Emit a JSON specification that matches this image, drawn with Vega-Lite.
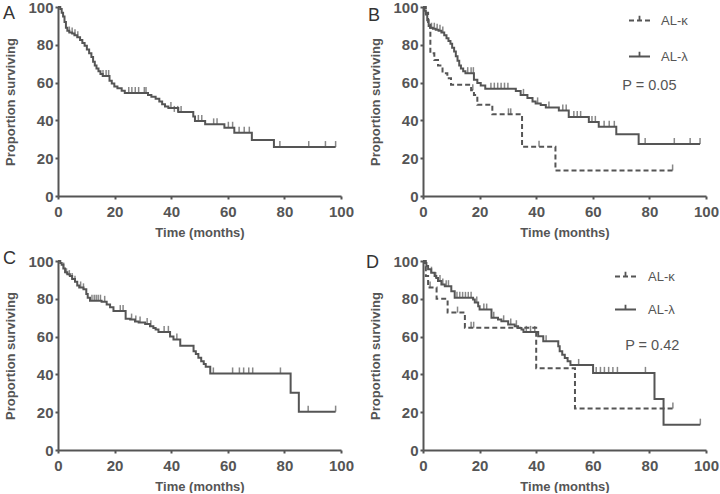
{
  "$schema": "https://vega.github.io/schema/vega-lite/v6.json",
  "background": "white",
  "padding": {"left": 3, "top": 0, "right": 0, "bottom": 0},
  "columns": 2,
  "spacing": {"row": 65, "column": 82},
  "bounds": "flush",
  "resolve": {"scale": {"strokeDash": "independent"}, "legend": {"strokeDash": "independent"}},
  "datasets": {
    "A_curve": [
      {"t":0,"s":100},{"t":0.8,"s":99},{"t":1.3,"s":97},{"t":1.8,"s":95},{"t":2.3,"s":92},{"t":2.8,"s":89},{"t":3.3,"s":87.5},{"t":4,"s":86.5},{"t":5,"s":86},{"t":5.8,"s":85},{"t":6.8,"s":84},{"t":7.8,"s":82.5},{"t":8.6,"s":81},{"t":9.4,"s":79.5},{"t":10.2,"s":77.5},{"t":11,"s":75.5},{"t":11.8,"s":73.5},{"t":12.4,"s":71},{"t":13,"s":69},{"t":13.6,"s":67.5},{"t":14.3,"s":66},{"t":15,"s":64.5},{"t":15.8,"s":63.5},{"t":18.2,"s":61},{"t":19,"s":59.5},{"t":19.9,"s":58},{"t":21,"s":57},{"t":22.5,"s":55.7},{"t":23.6,"s":54.5},{"t":31.8,"s":53.5},{"t":33,"s":52.5},{"t":34.5,"s":51.5},{"t":35.8,"s":50},{"t":36.8,"s":48.5},{"t":37.8,"s":47.3},{"t":39,"s":46.5},{"t":42.5,"s":44.5},{"t":47.8,"s":42},{"t":48.4,"s":39.7},{"t":52,"s":37.9},{"t":58.8,"s":36.1},{"t":62.3,"s":33.5},{"t":68.5,"s":29.6},{"t":76.3,"s":25.9},{"t":98.1,"s":25.9}
    ],
    "A_cens": [
      {"t":4,"s":86.5},{"t":5,"s":86},{"t":6,"s":85},{"t":7,"s":84},{"t":15.9,"s":63.5},{"t":17,"s":63.5},{"t":17.9,"s":63.5},{"t":25,"s":54.5},{"t":26.1,"s":54.5},{"t":27.3,"s":54.5},{"t":28.5,"s":54.5},{"t":30.5,"s":54.5},{"t":31.1,"s":54.5},{"t":39.9,"s":46.5},{"t":41.1,"s":44.5},{"t":42.3,"s":44.5},{"t":43.5,"s":44.5},{"t":49.6,"s":39.7},{"t":50.8,"s":39.7},{"t":55,"s":37.9},{"t":56.2,"s":37.9},{"t":60.2,"s":36.1},{"t":61.7,"s":36.1},{"t":64,"s":33.5},{"t":65.8,"s":33.5},{"t":67.6,"s":33.5},{"t":78.4,"s":25.9},{"t":88.6,"s":25.9},{"t":94.5,"s":25.9},{"t":98.1,"s":25.9}
    ],
    "B_curve": [
      {"g":"AL-κ","t":0,"s":100},{"g":"AL-κ","t":1,"s":97},{"g":"AL-κ","t":1.8,"s":92},{"g":"AL-κ","t":2.6,"s":75.5},{"g":"AL-κ","t":4,"s":72},{"g":"AL-κ","t":5.3,"s":69},{"g":"AL-κ","t":6.9,"s":65},{"g":"AL-κ","t":8.6,"s":62.3},{"g":"AL-κ","t":9.9,"s":58.8},{"g":"AL-κ","t":17,"s":56},{"g":"AL-κ","t":18,"s":53.5},{"g":"AL-κ","t":19.2,"s":48.3},{"g":"AL-κ","t":24.5,"s":43.2},{"g":"AL-κ","t":35,"s":26},{"g":"AL-κ","t":46.8,"s":13.5},{"g":"AL-κ","t":88.2,"s":13.5},
      {"g":"AL-λ","t":0,"s":100},{"g":"AL-λ","t":0.5,"s":98},{"g":"AL-λ","t":1,"s":96},{"g":"AL-λ","t":1.5,"s":93},{"g":"AL-λ","t":2,"s":90},{"g":"AL-λ","t":2.5,"s":89},{"g":"AL-λ","t":3.5,"s":88.5},{"g":"AL-λ","t":4.5,"s":88},{"g":"AL-λ","t":5.5,"s":87.5},{"g":"AL-λ","t":6.5,"s":86.5},{"g":"AL-λ","t":7.5,"s":85},{"g":"AL-λ","t":8.3,"s":83.5},{"g":"AL-λ","t":9,"s":82},{"g":"AL-λ","t":9.7,"s":80.5},{"g":"AL-λ","t":10.3,"s":78.5},{"g":"AL-λ","t":11,"s":76.5},{"g":"AL-λ","t":11.6,"s":74},{"g":"AL-λ","t":12.2,"s":71.5},{"g":"AL-λ","t":12.8,"s":69},{"g":"AL-λ","t":13.4,"s":67.5},{"g":"AL-λ","t":14.2,"s":66},{"g":"AL-λ","t":15,"s":65},{"g":"AL-λ","t":18,"s":61.5},{"g":"AL-λ","t":19.2,"s":59.8},{"g":"AL-λ","t":20.4,"s":58.4},{"g":"AL-λ","t":22,"s":56.8},{"g":"AL-λ","t":32.8,"s":55.5},{"g":"AL-λ","t":34.5,"s":53.5},{"g":"AL-λ","t":36.9,"s":51.8},{"g":"AL-λ","t":38.7,"s":50},{"g":"AL-λ","t":39.8,"s":49},{"g":"AL-λ","t":41.6,"s":48.2},{"g":"AL-λ","t":43.4,"s":46.8},{"g":"AL-λ","t":48,"s":45.3},{"g":"AL-λ","t":51.5,"s":41.8},{"g":"AL-λ","t":58.6,"s":39.2},{"g":"AL-λ","t":62.1,"s":36.6},{"g":"AL-λ","t":68.3,"s":32.7},{"g":"AL-λ","t":76.2,"s":27.5},{"g":"AL-λ","t":97.9,"s":27.5}
    ],
    "B_cens": [
      {"t":17.6,"s":56},{"t":30.2,"s":43.2},{"t":31,"s":43.2},{"t":41,"s":26},{"t":88.2,"s":13.5},
      {"t":3,"s":88.5},{"t":4,"s":88.5},{"t":5,"s":88},{"t":6,"s":87.5},{"t":7,"s":86.5},{"t":15.8,"s":65},{"t":17,"s":65},{"t":17.8,"s":65},{"t":24,"s":56.8},{"t":25.2,"s":56.8},{"t":26.4,"s":56.8},{"t":27.6,"s":56.8},{"t":28.8,"s":56.8},{"t":30,"s":56.8},{"t":35.5,"s":53.5},{"t":40.5,"s":49},{"t":44.5,"s":46.8},{"t":49.4,"s":45.3},{"t":50.6,"s":45.3},{"t":53.3,"s":41.8},{"t":54.5,"s":41.8},{"t":55.7,"s":41.8},{"t":59.7,"s":39.2},{"t":60.9,"s":39.2},{"t":64,"s":36.6},{"t":65.8,"s":36.6},{"t":67.6,"s":36.6},{"t":78.5,"s":27.5},{"t":88.8,"s":27.5},{"t":94.4,"s":27.5},{"t":97.9,"s":27.5}
    ],
    "B_text": [{"t":80,"s":58,"label":"P = 0.05"}],
    "C_curve": [
      {"t":0,"s":100},{"t":0.8,"s":99},{"t":1.3,"s":98},{"t":1.9,"s":96},{"t":2.5,"s":94},{"t":3.3,"s":93},{"t":4.2,"s":92},{"t":5,"s":90.5},{"t":6,"s":89},{"t":6.8,"s":87},{"t":7.5,"s":86},{"t":9,"s":85},{"t":10,"s":82.5},{"t":10.5,"s":80.5},{"t":11.3,"s":79},{"t":15.4,"s":78.4},{"t":17.2,"s":77},{"t":18.4,"s":75.5},{"t":19.6,"s":73.5},{"t":23.9,"s":69.5},{"t":25.5,"s":69},{"t":27.2,"s":68},{"t":28.5,"s":67.5},{"t":30.8,"s":66.7},{"t":32.5,"s":65.5},{"t":33.7,"s":64.6},{"t":34.5,"s":63.7},{"t":35.5,"s":62.5},{"t":39.6,"s":60},{"t":40.8,"s":58.4},{"t":43.2,"s":55.2},{"t":47.9,"s":52.2},{"t":48.7,"s":50.8},{"t":49.6,"s":48.8},{"t":50.6,"s":47},{"t":51.5,"s":45.5},{"t":52.2,"s":44},{"t":53.8,"s":40.5},{"t":82.2,"s":30.3},{"t":85.1,"s":20.3},{"t":98.1,"s":20.3}
    ],
    "C_cens": [
      {"t":2,"s":96},{"t":3,"s":93},{"t":4,"s":92},{"t":5,"s":90.5},{"t":6,"s":89},{"t":8,"s":86},{"t":9,"s":85},{"t":12,"s":79},{"t":12.8,"s":79},{"t":13.5,"s":79},{"t":14.2,"s":79},{"t":15,"s":79},{"t":16.5,"s":78.4},{"t":22,"s":73.5},{"t":23,"s":73.5},{"t":26,"s":69},{"t":27.5,"s":68},{"t":29,"s":67.5},{"t":31.5,"s":66.7},{"t":32.8,"s":65.5},{"t":37.5,"s":62.5},{"t":39,"s":62.5},{"t":42,"s":58.4},{"t":54.9,"s":40.5},{"t":61.7,"s":40.5},{"t":64.1,"s":40.5},{"t":65.6,"s":40.5},{"t":67.4,"s":40.5},{"t":68.8,"s":40.5},{"t":78.6,"s":40.5},{"t":88.4,"s":20.3},{"t":98.1,"s":20.3}
    ],
    "D_curve": [
      {"g":"AL-κ","t":0,"s":100},{"g":"AL-κ","t":1,"s":92},{"g":"AL-κ","t":1.8,"s":86},{"g":"AL-κ","t":4.8,"s":80},{"g":"AL-κ","t":8.7,"s":72.7},{"g":"AL-κ","t":14.8,"s":64.7},{"g":"AL-κ","t":40,"s":43.2},{"g":"AL-κ","t":53.7,"s":22},{"g":"AL-κ","t":88.3,"s":22},
      {"g":"AL-λ","t":0,"s":100},{"g":"AL-λ","t":0.6,"s":99},{"g":"AL-λ","t":1.2,"s":97.3},{"g":"AL-λ","t":1.8,"s":95.6},{"g":"AL-λ","t":2.9,"s":93.8},{"g":"AL-λ","t":4.1,"s":92},{"g":"AL-λ","t":4.7,"s":91},{"g":"AL-λ","t":5.3,"s":89.4},{"g":"AL-λ","t":6.5,"s":87.6},{"g":"AL-λ","t":7.7,"s":86.7},{"g":"AL-λ","t":10,"s":84},{"g":"AL-λ","t":11.2,"s":80.5},{"g":"AL-λ","t":17.7,"s":79.6},{"g":"AL-λ","t":18.3,"s":78},{"g":"AL-λ","t":19.5,"s":76},{"g":"AL-λ","t":20,"s":74.3},{"g":"AL-λ","t":24.2,"s":70},{"g":"AL-λ","t":26.5,"s":69},{"g":"AL-λ","t":27.7,"s":68.1},{"g":"AL-λ","t":30.1,"s":66.4},{"g":"AL-λ","t":32.4,"s":65.5},{"g":"AL-λ","t":33.6,"s":64.6},{"g":"AL-λ","t":34.8,"s":63.7},{"g":"AL-λ","t":35.5,"s":62.5},{"g":"AL-λ","t":40.7,"s":60.2},{"g":"AL-λ","t":42.5,"s":57.5},{"g":"AL-λ","t":47.8,"s":54.9},{"g":"AL-λ","t":48.3,"s":52.2},{"g":"AL-λ","t":49.2,"s":50.4},{"g":"AL-λ","t":50.1,"s":48.7},{"g":"AL-λ","t":51.1,"s":46.9},{"g":"AL-λ","t":52.1,"s":45},{"g":"AL-λ","t":60.1,"s":40.8},{"g":"AL-λ","t":81.8,"s":27},{"g":"AL-λ","t":85,"s":13.4},{"g":"AL-λ","t":98,"s":13.4}
    ],
    "D_cens": [
      {"t":2.5,"s":86},{"t":12.2,"s":72.7},{"t":17,"s":64.7},{"t":17.9,"s":64.7},{"t":88.3,"s":22},
      {"t":3,"s":93.8},{"t":4.5,"s":91},{"t":6,"s":89.4},{"t":7,"s":87.6},{"t":8.2,"s":86.7},{"t":9,"s":86.7},{"t":12,"s":80.5},{"t":13,"s":80.5},{"t":14,"s":80.5},{"t":15,"s":80.5},{"t":16,"s":80.5},{"t":17,"s":80.5},{"t":19,"s":78},{"t":21.5,"s":74.3},{"t":22.5,"s":74.3},{"t":25,"s":70},{"t":28.5,"s":68.1},{"t":31,"s":66.4},{"t":33,"s":65.5},{"t":36.5,"s":62.5},{"t":38,"s":62.5},{"t":39.5,"s":62.5},{"t":43.5,"s":57.5},{"t":55,"s":45},{"t":61.2,"s":40.8},{"t":62.7,"s":40.8},{"t":64.1,"s":40.8},{"t":65.6,"s":40.8},{"t":67.1,"s":40.8},{"t":68.7,"s":40.8},{"t":78.6,"s":40.8},{"t":98,"s":13.4}
    ],
    "D_text": [{"t":81,"s":55,"label":"P = 0.42"}]
  },
  "concat": [
    {
      "width": 283, "height": 189,
      "title": {"text": "A", "dx": -55, "dy": 27},
      "encoding": {
        "x": {"field": "t", "type": "quantitative", "scale": {"domain": [0, 100], "nice": false}, "axis": {"title": "Time (months)", "values": [0, 20, 40, 60, 80, 100]}},
        "y": {"field": "s", "type": "quantitative", "scale": {"domain": [0, 100], "nice": false}, "axis": {"title": "Proportion surviving", "values": [0, 20, 40, 60, 80, 100]}}
      },
      "layer": [
        {"data": {"name": "A_curve"}, "mark": {"type": "line", "interpolate": "step-after", "color": "#555", "strokeWidth": 2}},
        {"data": {"name": "A_cens"}, "mark": {"type": "tick", "orient": "vertical", "color": "#555", "size": 6, "thickness": 1.5, "yOffset": -3}}
      ]
    },
    {
      "width": 283, "height": 189,
      "title": {"text": "B", "dx": -55, "dy": 29},
      "encoding": {
        "x": {"field": "t", "type": "quantitative", "scale": {"domain": [0, 100], "nice": false}, "axis": {"title": "Time (months)", "values": [0, 20, 40, 60, 80, 100]}},
        "y": {"field": "s", "type": "quantitative", "scale": {"domain": [0, 100], "nice": false}, "axis": {"title": "Proportion surviving", "values": [0, 20, 40, 60, 80, 100]}}
      },
      "layer": [
        {"data": {"name": "B_curve"}, "mark": {"type": "line", "interpolate": "step-after", "color": "#555", "strokeWidth": 2},
         "encoding": {"strokeDash": {"field": "g", "type": "nominal", "scale": {"domain": ["AL-κ", "AL-λ"], "range": [[5, 3], [1, 0]]},
                                     "legend": {"orient": "none", "legendX": 205, "legendY": 2, "rowPadding": 17, "labelOffset": 10}}}},
        {"data": {"name": "B_cens"}, "mark": {"type": "tick", "orient": "vertical", "color": "#555", "size": 6, "thickness": 1.5, "yOffset": -3}},
        {"data": {"name": "B_text"}, "mark": {"type": "text", "font": "Liberation Sans", "fontSize": 14.5, "color": "#555", "align": "center", "baseline": "middle"},
         "encoding": {"text": {"field": "label"}}}
      ]
    },
    {
      "width": 283, "height": 189,
      "title": {"text": "C", "dx": -55, "dy": 18},
      "encoding": {
        "x": {"field": "t", "type": "quantitative", "scale": {"domain": [0, 100], "nice": false}, "axis": {"title": "Time (months)", "values": [0, 20, 40, 60, 80, 100]}},
        "y": {"field": "s", "type": "quantitative", "scale": {"domain": [0, 100], "nice": false}, "axis": {"title": "Proportion surviving", "values": [0, 20, 40, 60, 80, 100]}}
      },
      "layer": [
        {"data": {"name": "C_curve"}, "mark": {"type": "line", "interpolate": "step-after", "color": "#555", "strokeWidth": 2}},
        {"data": {"name": "C_cens"}, "mark": {"type": "tick", "orient": "vertical", "color": "#555", "size": 6, "thickness": 1.5, "yOffset": -3}}
      ]
    },
    {
      "width": 283, "height": 189,
      "title": {"text": "D", "dx": -57, "dy": 22},
      "encoding": {
        "x": {"field": "t", "type": "quantitative", "scale": {"domain": [0, 100], "nice": false}, "axis": {"title": "Time (months)", "values": [0, 20, 40, 60, 80, 100]}},
        "y": {"field": "s", "type": "quantitative", "scale": {"domain": [0, 100], "nice": false}, "axis": {"title": "Proportion surviving", "values": [0, 20, 40, 60, 80, 100]}}
      },
      "layer": [
        {"data": {"name": "D_curve"}, "mark": {"type": "line", "interpolate": "step-after", "color": "#555", "strokeWidth": 2},
         "encoding": {"strokeDash": {"field": "g", "type": "nominal", "scale": {"domain": ["AL-κ", "AL-λ"], "range": [[5, 3], [1, 0]]},
                                     "legend": {"orient": "none", "legendX": 191, "legendY": 4, "rowPadding": 14, "labelOffset": 11}}}},
        {"data": {"name": "D_cens"}, "mark": {"type": "tick", "orient": "vertical", "color": "#555", "size": 6, "thickness": 1.5, "yOffset": -3}},
        {"data": {"name": "D_text"}, "mark": {"type": "text", "font": "Liberation Sans", "fontSize": 14.5, "color": "#555", "align": "center", "baseline": "middle"},
         "encoding": {"text": {"field": "label"}}}
      ]
    }
  ],
  "config": {
    "view": {"stroke": null},
    "font": "Liberation Sans",
    "title": {"anchor": "start", "frame": "group", "fontSize": 18, "fontWeight": "normal", "color": "#333", "font": "Liberation Sans", "baseline": "top", "offset": 0},
    "axis": {"grid": false, "domainColor": "#555", "domainWidth": 2, "tickColor": "#555", "tickWidth": 2, "tickSize": 3,
             "labelFont": "Liberation Sans", "labelFontSize": 15, "labelFontWeight": "bold", "labelColor": "#555", "labelPadding": 2,
             "labelFlush": false, "labelOverlap": false, "labelBound": false,
             "titleFont": "Liberation Sans", "titleFontSize": 13, "titleFontWeight": "bold", "titleColor": "#555"},
    "axisX": {"titlePadding": 7, "labelPadding": 5},
    "axisY": {"titlePadding": 10},
    "legend": {"title": null, "symbolType": "M-1,0H1M0,0V-0.45", "symbolSize": 441, "symbolStrokeWidth": 1.8, "symbolStrokeColor": "#555", "symbolFillColor": "transparent",
               "labelFont": "Liberation Sans", "labelFontSize": 13, "labelColor": "#555", "padding": 0}
  }
}
